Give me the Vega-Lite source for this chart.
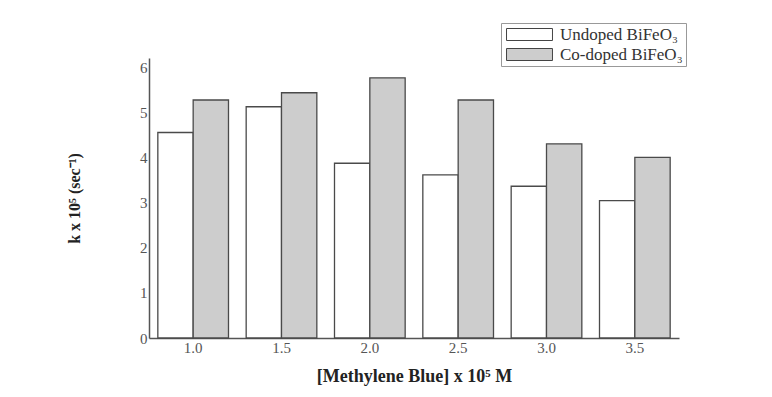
{
  "$schema": "https://vega.github.io/schema/vega-lite/v6.json",
  "width": 530,
  "height": 280,
  "padding": {"left": 66, "top": 22, "right": 5, "bottom": 5},
  "background": "white",
  "data": {
    "values": [
      {"conc": "1.0", "sample": "Undoped BiFeO₃", "k": 4.55},
      {"conc": "1.0", "sample": "Co-doped BiFeO₃", "k": 5.27},
      {"conc": "1.5", "sample": "Undoped BiFeO₃", "k": 5.12},
      {"conc": "1.5", "sample": "Co-doped BiFeO₃", "k": 5.43},
      {"conc": "2.0", "sample": "Undoped BiFeO₃", "k": 3.87},
      {"conc": "2.0", "sample": "Co-doped BiFeO₃", "k": 5.76},
      {"conc": "2.5", "sample": "Undoped BiFeO₃", "k": 3.61},
      {"conc": "2.5", "sample": "Co-doped BiFeO₃", "k": 5.27},
      {"conc": "3.0", "sample": "Undoped BiFeO₃", "k": 3.36},
      {"conc": "3.0", "sample": "Co-doped BiFeO₃", "k": 4.30},
      {"conc": "3.5", "sample": "Undoped BiFeO₃", "k": 3.04},
      {"conc": "3.5", "sample": "Co-doped BiFeO₃", "k": 4.00}
    ]
  },
  "mark": {"type": "bar", "stroke": "#4a4a4a", "strokeWidth": 1.3},
  "encoding": {
    "x": {
      "field": "conc", "type": "ordinal",
      "scale": {"paddingInner": 0.2, "paddingOuter": 0.1},
      "axis": {
        "title": "[Methylene Blue] x 10⁵ M",
        "labelAngle": 0, "ticks": false, "labelPadding": 2,
        "domainColor": "#555", "domainWidth": 1.5,
        "labelFont": "Liberation Serif", "labelFontSize": 15, "labelColor": "#555",
        "titleFont": "Liberation Serif", "titleFontSize": 18, "titleFontWeight": "bold",
        "titleColor": "#222", "titlePadding": 12
      }
    },
    "xOffset": {
      "field": "sample", "type": "nominal",
      "sort": ["Undoped BiFeO₃", "Co-doped BiFeO₃"],
      "scale": {"paddingInner": 0, "paddingOuter": 0}
    },
    "y": {
      "field": "k", "type": "quantitative",
      "scale": {"domain": [0, 6.2], "nice": false},
      "axis": {
        "title": "k x 10⁵ (sec⁻¹)",
        "values": [0, 1, 2, 3, 4, 5, 6],
        "grid": false, "ticks": false, "labelPadding": 2,
        "domainColor": "#555", "domainWidth": 1.5,
        "labelFont": "Liberation Serif", "labelFontSize": 15, "labelColor": "#555",
        "titleFont": "Liberation Serif", "titleFontSize": 16, "titleFontWeight": "bold",
        "titleColor": "#222", "titlePadding": 57
      }
    },
    "fill": {
      "field": "sample", "type": "nominal",
      "sort": ["Undoped BiFeO₃", "Co-doped BiFeO₃"],
      "scale": {"domain": ["Undoped BiFeO₃", "Co-doped BiFeO₃"], "range": ["#ffffff", "#cdcdcd"]},
      "legend": {
        "title": null,
        "orient": "none", "legendX": 352, "legendY": -35,
        "symbolType": "M-3.83,-1H3.83V1H-3.83Z", "symbolSize": 144,
        "symbolOffset": 17, "labelOffset": 22,
        "symbolStrokeColor": "#444", "symbolStrokeWidth": 1,
        "labelFont": "Liberation Serif", "labelFontSize": 17, "labelColor": "#333",
        "rowPadding": 2, "padding": 3,
        "strokeColor": "#999", "fillColor": "white"
      }
    }
  },
  "config": {"view": {"stroke": null}}
}
